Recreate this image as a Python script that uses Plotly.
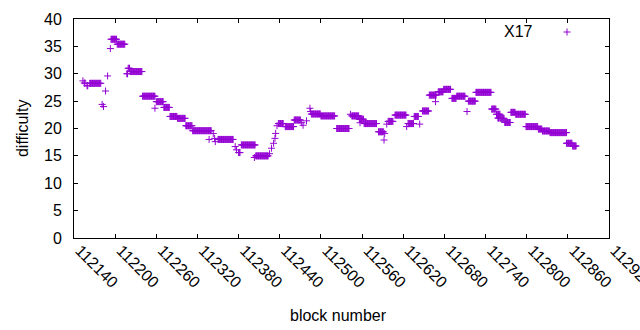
import plotly.graph_objects as go

# Runs of constant difficulty: first block, last block, difficulty
run_start = [112153, 112155, 112159, 112163, 112181, 112183, 112186, 112189, 112193, 112194,
             112203, 112217, 112219, 112222, 112240, 112258, 112260, 112271, 112280, 112291,
             112303, 112313, 112337, 112343, 112345, 112346, 112350, 112375, 112377, 112380,
             112384, 112403, 112405, 112425, 112428, 112431, 112433, 112434, 112436, 112438,
             112448, 112461, 112472, 112474, 112479, 112484, 112485, 112486, 112500, 112523,
             112543, 112545, 112556, 112557, 112563, 112584, 112592, 112593, 112596, 112598,
             112608, 112625, 112627, 112636, 112644, 112648, 112658, 112667, 112671, 112679,
             112691, 112698, 112713, 112715, 112726, 112749, 112756, 112758, 112762, 112768,
             112777, 112784, 112799, 112817, 112823, 112834, 112858, 112867]
run_end = [112153, 112156, 112160, 112179, 112181, 112183, 112186, 112189, 112193, 112202,
           112214, 112218, 112221, 112239, 112258, 112258, 112270, 112279, 112290, 112302,
           112312, 112340, 112337, 112343, 112345, 112346, 112372, 112375, 112377, 112382,
           112404, 112403, 112423, 112425, 112428, 112431, 112433, 112434, 112436, 112445,
           112460, 112470, 112472, 112474, 112479, 112484, 112485, 112499, 112520, 112541,
           112543, 112555, 112562, 112557, 112581, 112591, 112592, 112593, 112596, 112605,
           112624, 112625, 112635, 112642, 112644, 112657, 112668, 112667, 112678, 112689,
           112697, 112710, 112713, 112725, 112748, 112755, 112761, 112760, 112767, 112776,
           112783, 112798, 112816, 112822, 112833, 112858, 112866, 112872]
run_value = [28.7, 28.3, 27.8, 28.25, 24.4, 24.0, 26.85, 29.6, 34.6, 36.3,
             35.4, 30.0, 31.0, 30.4, 25.9, 23.7, 24.9, 23.85, 22.2, 21.85,
             20.5, 19.6, 18.0, 19.1, 18.2, 17.6, 18.0, 16.7, 16.1, 15.6,
             17.0, 14.7, 15.0, 15.4, 16.4, 17.3, 18.2, 19.1, 20.5, 20.9,
             20.35, 21.55, 21.05, 20.6, 21.4, 23.7, 23.1, 22.65, 22.3, 20.0,
             22.6, 22.3, 21.7, 21.05, 20.9, 19.4, 17.9, 19.1, 20.8, 21.3,
             22.45, 20.35, 20.9, 22.2, 20.8, 23.2, 26.1, 24.9, 26.7, 27.15,
             25.5, 25.9, 23.1, 25.0, 26.6, 23.55, 22.6, 21.9, 21.85, 21.1,
             22.95, 22.6, 20.35, 19.9, 19.55, 19.25, 17.3, 16.8]

x_ticks = [112140, 112200, 112260, 112320, 112380, 112440, 112500, 112560,
           112620, 112680, 112740, 112800, 112860, 112920]
y_ticks = [0, 5, 10, 15, 20, 25, 30, 35, 40]

blocks = []
difficulty = []
for s, e, v in zip(run_start, run_end, run_value):
    for b in range(s, e + 1):
        blocks.append(b)
        difficulty.append(v)

PURPLE = "#9400d3"
FONT = "Liberation Sans, Arial, sans-serif"

fig = go.Figure()
fig.add_trace(go.Scatter(
    x=blocks, y=difficulty, mode="markers", name="X17", showlegend=False,
    marker=dict(symbol="cross-thin", size=5, color=PURPLE,
                line=dict(color=PURPLE, width=1)),
))

axis_common = dict(
    showline=True, linecolor="black", linewidth=1, mirror="ticks",
    ticks="inside", ticklen=4, tickwidth=1, tickcolor="black",
    showgrid=False, zeroline=False,
    tickfont=dict(family=FONT, size=16, color="black"),
)

fig.update_xaxes(range=[112140, 112920], tickvals=x_ticks,
                 ticktext=[str(t) for t in x_ticks], tickangle=45,
                 ticklabeloverflow="allow", ticklabelstandoff=-4, ticklabelshift=6,
                 **axis_common)
fig.update_yaxes(range=[0, 40], tickvals=y_ticks, ticklabelstandoff=8, **axis_common)

# legend (gnuplot style: text then sample)
fig.add_annotation(xref="paper", yref="paper", x=0.862, y=0.945, text="X17",
                   showarrow=False, xanchor="right", yanchor="middle",
                   font=dict(family=FONT, size=16, color="black"))
px = 0.9215
py = 0.9406
dx = 3.5 / 535
dy = 3.5 / 219
fig.add_shape(type="line", xref="paper", yref="paper", x0=px - dx, x1=px + dx, y0=py, y1=py,
              line=dict(color=PURPLE, width=1))
fig.add_shape(type="line", xref="paper", yref="paper", x0=px, x1=px, y0=py - dy, y1=py + dy,
              line=dict(color=PURPLE, width=1))

# axis titles
fig.add_annotation(xref="paper", yref="paper", x=0.495, y=-0.3516, text="block number",
                   showarrow=False, xanchor="center", yanchor="middle",
                   font=dict(family=FONT, size=16, color="black"))
fig.add_annotation(xref="paper", yref="paper", x=-0.0972, y=0.502, text="difficulty",
                   showarrow=False, xanchor="center", yanchor="middle", textangle=-90,
                   font=dict(family=FONT, size=16, color="black"))

fig.update_layout(
    width=640, height=330,
    margin=dict(l=74, r=31, t=19, b=92, autoexpand=False),
    paper_bgcolor="white", plot_bgcolor="white",
    showlegend=False,
)

fig.write_html("out.html", config={"displayModeBar": False},
               post_script="document.body.style.margin='0';document.body.style.overflow='hidden';")
